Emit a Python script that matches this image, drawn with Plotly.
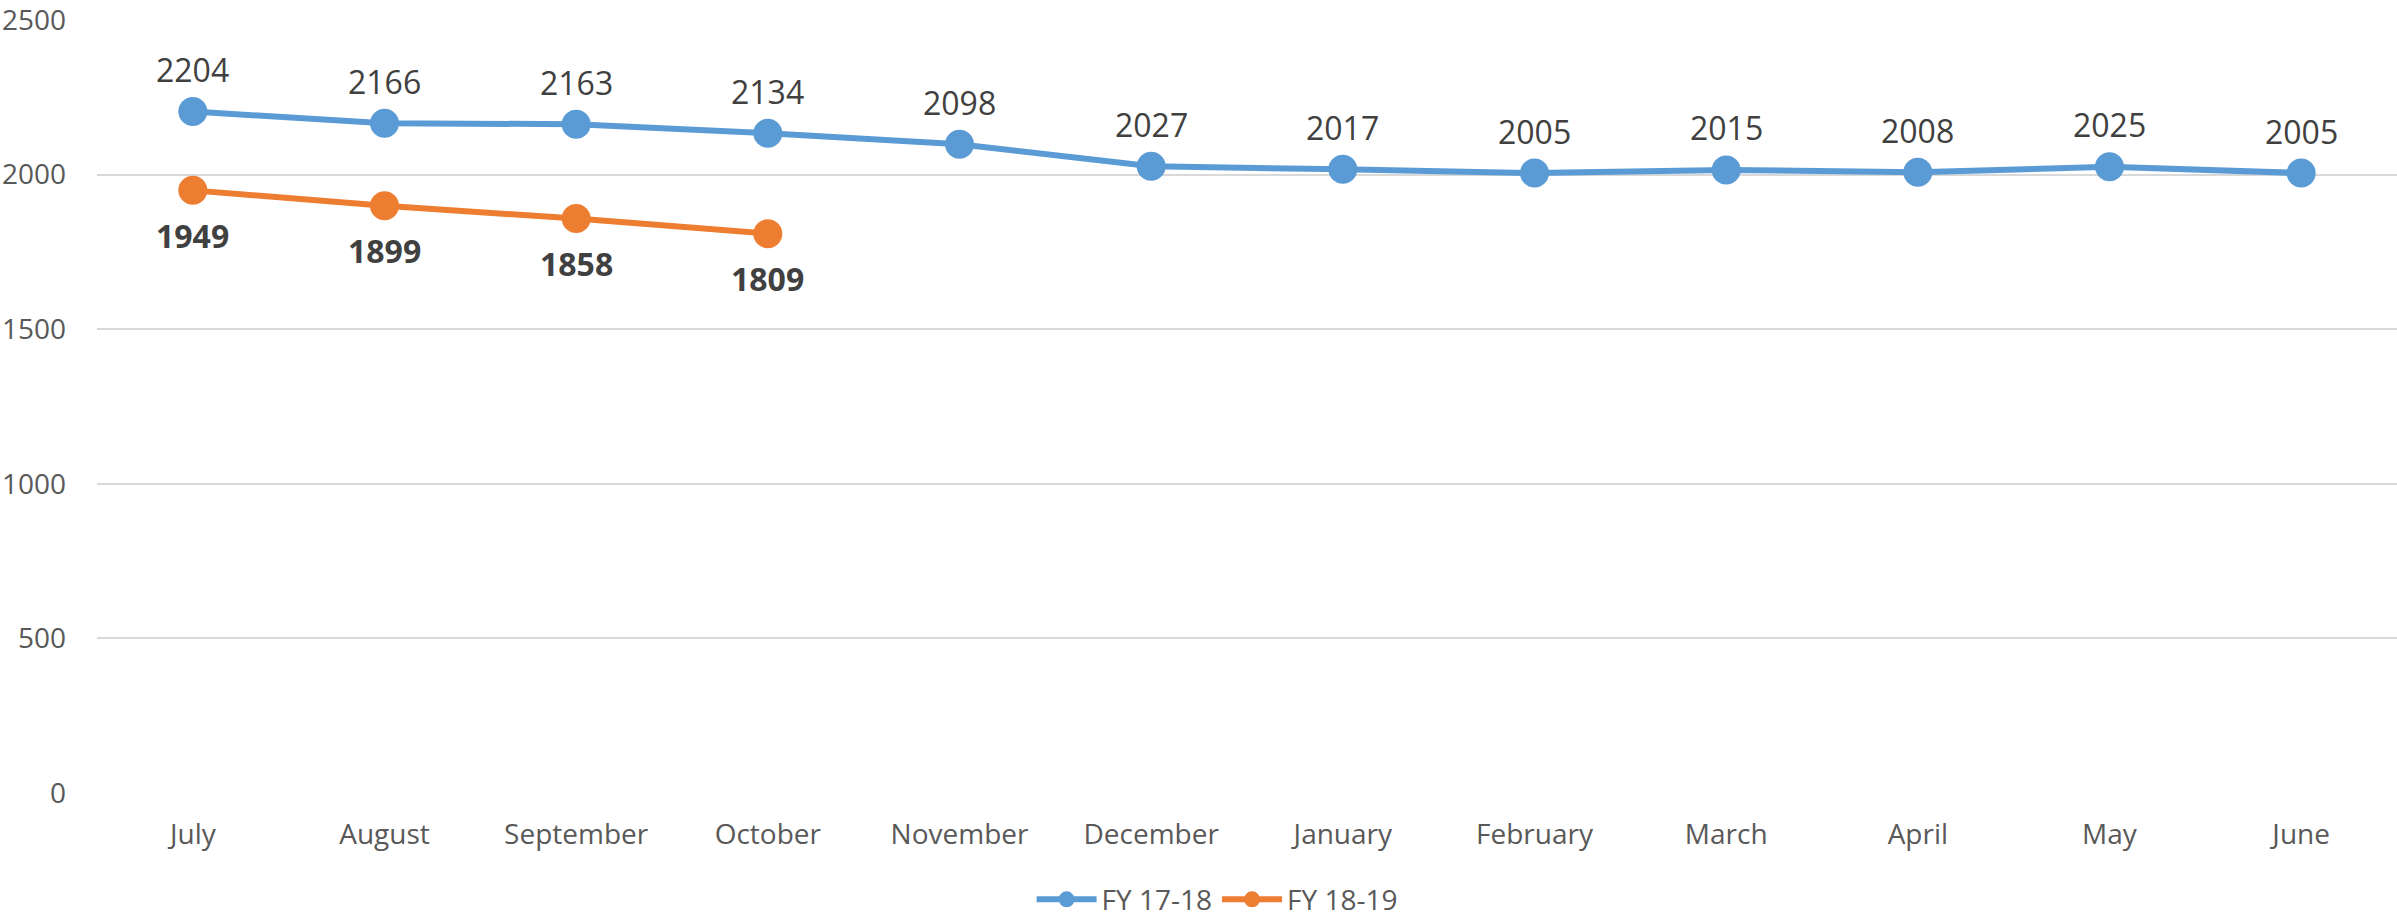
import plotly.graph_objects as go

months = ["July", "August", "September", "October", "November", "December",
          "January", "February", "March", "April", "May", "June"]
fy1718 = [2204, 2166, 2163, 2134, 2098, 2027, 2017, 2005, 2015, 2008, 2025, 2005]
fy1819 = [1949, 1899, 1858, 1809]
y_ticks = [0, 500, 1000, 1500, 2000, 2500]

FONT = "Open Sans"
BLUE = "#5B9BD5"
ORANGE = "#ED7D31"
LABEL_COLOR = "#404040"

fig = go.Figure()
fig.add_trace(go.Scatter(
    x=months, y=fy1718, name="FY 17-18", mode="lines+markers",
    line=dict(color=BLUE, width=6), marker=dict(color=BLUE, size=29),
))
fig.add_trace(go.Scatter(
    x=months[:len(fy1819)], y=fy1819, name="FY 18-19", mode="lines+markers",
    line=dict(color=ORANGE, width=6), marker=dict(color=ORANGE, size=29),
))

for m, v in zip(months, fy1718):
    fig.add_annotation(x=m, y=v, text=str(v), showarrow=False, yshift=42,
                       yanchor="middle", xanchor="center",
                       font=dict(family=FONT, size=32, color=LABEL_COLOR))
for m, v in zip(months, fy1819):
    fig.add_annotation(x=m, y=v, text=f"<b>{v}</b>", showarrow=False, yshift=-45,
                       yanchor="middle", xanchor="center",
                       font=dict(family=FONT, size=32, color=LABEL_COLOR))

fig.update_layout(
    width=2397, height=921,
    margin=dict(l=97, r=0, t=20, b=128, autoexpand=False),
    paper_bgcolor="white", plot_bgcolor="white",
    font=dict(family=FONT, size=28, color="#595959"),
    showlegend=True,
    legend=dict(orientation="h", x=0.487, xanchor="center", y=-0.138, yanchor="middle",
                font=dict(family=FONT, size=28, color="#595959"), itemwidth=60,
                traceorder="normal"),
    xaxis=dict(type="category", categoryorder="array", categoryarray=months,
               range=[-0.5, len(months) - 0.5], showgrid=False, zeroline=False,
               showline=False, ticks="", ticklabelstandoff=22, automargin=False,
               tickfont=dict(family=FONT, size=28, color="#595959")),
    yaxis=dict(range=[0, 2500], tickvals=y_ticks, showgrid=True, gridcolor="#D9D9D9",
               gridwidth=2, zeroline=False, showline=False, ticks="",
               ticklabelstandoff=30, automargin=False, ticklabeloverflow="allow",
               tickfont=dict(family=FONT, size=28, color="#595959")),
)

fig.write_html(
    "out.html",
    config={"displayModeBar": False},
    post_script="document.body.style.margin='0';document.body.style.overflow='hidden';",
)
